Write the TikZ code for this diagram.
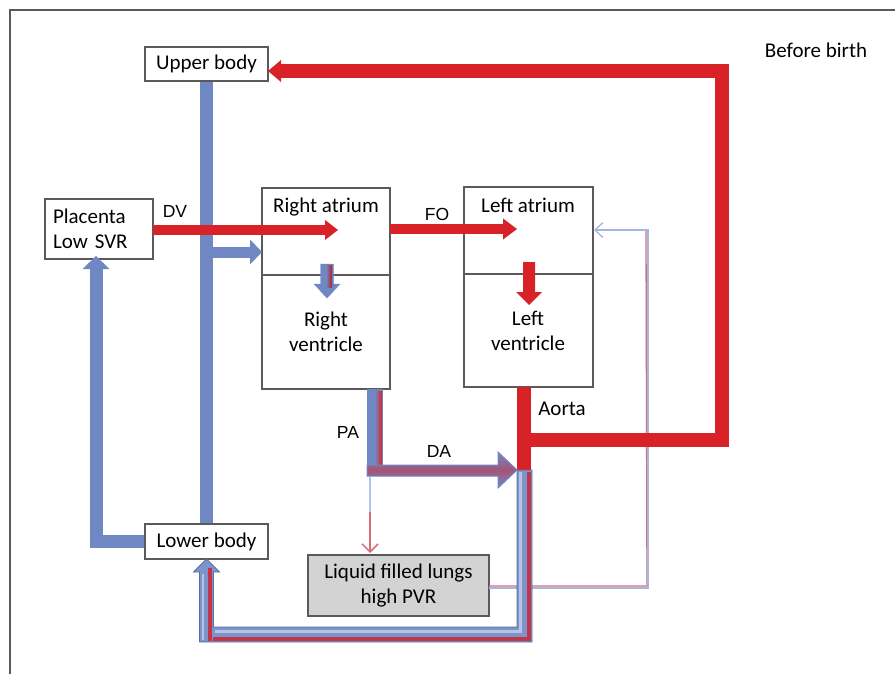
\documentclass[tikz,border=0pt]{standalone}
\usepackage{fontspec}
\setmainfont{Carlito}
\newfontfamily\arialfont{Liberation Sans}
\usetikzlibrary{arrows.meta}
\definecolor{fred}{RGB}{217,33,40}
\definecolor{fblue}{RGB}{111,136,196}
\definecolor{flight}{RGB}{180,195,230}
\definecolor{fpink}{RGB}{212,108,122}
\definecolor{fgray}{RGB}{211,211,211}
\definecolor{fedge}{RGB}{90,90,90}
\tikzset{
  box/.style={draw=fedge, line width=1.2pt, fill=white, inner sep=0pt},
  lbl/.style={font=\fontsize{21}{25.5}\selectfont, inner sep=0pt, align=center},
  albl/.style={font=\arialfont\fontsize{17.5}{20}\selectfont, inner sep=0pt},
  vein/.style={fblue, line width=13pt, line join=miter},
  artery/.style={fred, line width=14pt, line join=miter},
  thinb/.style={flight!80!fblue, line width=1.3pt},
  thinr/.style={fpink, line width=1.3pt},
}
\begin{document}
\begin{tikzpicture}[x=1pt,y=-1pt]
\useasboundingbox (0,0) rectangle (895,674);
\draw[fedge, line width=1.2pt] (10,674) -- (10,10) -- (895,10);

% boxes
\node[box, lbl, minimum width=123pt, minimum height=34pt] (upper) at (206.5,64) {Upper body};
\node[box, lbl, minimum width=108pt, minimum height=60pt, text width=92pt, align=left] (placenta) at (99,229) {Placenta\\Low SVR};
\node[box, minimum width=128pt, minimum height=87pt] (ra) at (326,231.5) {};
\node[box, minimum width=128pt, minimum height=114pt] (rv) at (326,332) {};
\node[box, minimum width=129pt, minimum height=87pt] (la) at (528.5,230.5) {};
\node[box, minimum width=129pt, minimum height=113pt] (lv) at (528.5,330.5) {};
\node[box, lbl, minimum width=123pt, minimum height=35pt] (lower) at (206.5,541.5) {Lower body};
\node[box, lbl, fill=fgray, minimum width=181pt, minimum height=61pt] (lungs) at (398.5,585.5) {Liquid filled lungs\\high PVR};

% coordinates
\coordinate (br1) at (206.5,252);
\coordinate (brt) at (262,252);
\coordinate (dv1) at (153,230);
\coordinate (dvt) at (338,230);
\coordinate (fo1) at (390,229);
\coordinate (fot) at (517,229);
\coordinate (ao1) at (524,387);
\coordinate (ao2) at (524,470);
\coordinate (aom) at (524,440);
\coordinate (rc1) at (722,440);
\coordinate (rc2) at (722,71);
\coordinate (upt) at (268,71);
\coordinate (pl1) at (370,477);
\coordinate (pl2) at (370,512);
\coordinate (pl3) at (370,553);
\coordinate (lg1) at (489,587);
\coordinate (lgc1) at (647,587);
\coordinate (lgc2) at (647,230);
\coordinate (lat) at (594,230);
\coordinate (lo1) at (96,541.5);
\coordinate (plt) at (96,256);

% thin return from lungs to left atrium
\draw[thinr] ([yshift=1pt]lg1) -- ([yshift=1pt]lgc1) -- ([xshift=-1pt]lgc2);
\draw[thinb, -{Straight Barb[length=8pt,width=15pt]}] ([yshift=-1pt]lg1) -- ([xshift=1pt,yshift=-1pt]lgc1) -- ([xshift=1pt]lgc2) -- (lat);

% blue trunk and branches
\draw[vein] (upper.south) -- (lower.north);
\draw[fblue, line width=11pt] (br1) -- ([xshift=-12pt]brt);
\fill[fblue] (brt) -- ++(-12,-12.5) -- ++(0,25) -- cycle;
\draw[vein] (lower.west) -- (lo1) -- ([yshift=-13pt]plt);
\fill[fblue] (plt) -- ++(-13.5,13) -- ++(27,0) -- cycle;

% red DV and FO
\draw[fred, line width=9pt] (dv1) -- ([xshift=-13pt]dvt);
\fill[fred] (dvt) -- ++(-13,-10) -- ++(0,20) -- cycle;
\draw[fred, line width=10pt] (fo1) -- ([xshift=-14pt]fot);
\fill[fred] (fot) -- ++(-14,-10.5) -- ++(0,21) -- cycle;

% inner heart arrows
\filldraw[fblue, draw=fblue] (320.5,264) -- (333.5,264) -- (333.5,284) -- (340,284) -- (327,298) -- (314,284) -- (320.5,284) -- cycle;
\shade[left color=fblue, right color=fred!85!black] (326,265) rectangle (332,287);
\fill[fred] (523,262) -- (535,262) -- (535,292) -- (542,292) -- (529,305) -- (516,292) -- (523,292) -- cycle;

% aorta and systemic
\draw[artery] (ao1) -- (ao2);
\draw[artery] (aom) -- (rc1) -- (rc2) -- ([xshift=13pt]upt);
\fill[fred] (upt) -- ++(13,-11) -- ++(0,22) -- cycle;

% PA and DA
\fill[fblue] (367,389) rectangle (383,476);
\shade[left color=fblue, right color=fred] (375,391) rectangle (382,464);
\shadedraw[draw=fblue, line width=1pt, top color=fblue, bottom color=fblue, middle color=fred!50!fblue]
  (367,465) -- (498,465) -- (498,452) -- (517,470) -- (498,488) -- (498,476) -- (367,476) -- cycle;

% PA to lungs
\draw[flight, line width=1.5pt] (pl1) -- (pl2);
\draw[fpink, line width=1.5pt, -{Straight Barb[length=8pt,width=16pt]}] (pl2) -- (pl3);

% descending stream to lower body
\filldraw[fill=fblue!90!white, draw=fblue!80!black, line width=0.8pt]
  (517,470) -- (532,470) -- (532,642) -- (199.5,642) -- (199.5,572) -- (193.5,572) -- (206.5,559)
  -- (219.5,572) -- (213.5,572) -- (213.5,627) -- (517,627) -- cycle;
\fill[flight] (519,472) rectangle (522,632);
\fill[flight] (214.5,629.5) rectangle (522,633);
\fill[flight] (201.5,574) rectangle (204,640);
\fill[fred!80!fblue] (527,472) rectangle (530.5,640.5);
\fill[fred!80!fblue] (212.5,637) rectangle (530.5,640.5);
\fill[fred!80!fblue] (208,568) rectangle (211.5,640.5);

% labels
\node[lbl] (ratxt) at (326,207) {Right atrium};
\node[lbl] (rvtxt) at (326,332) {Right\\ventricle};
\node[lbl] (latxt) at (528,205) {Left atrium};
\node[lbl] (lvtxt) at (528,331) {Left\\ventricle};
\node[lbl] (before) at (816,50) {Before birth};
\node[lbl] (aorta) at (562,409) {Aorta};
\node[albl] (dv) at (175,211) {DV};
\node[albl] (fo) at (437,214) {FO};
\node[albl] (pa) at (348,432) {PA};
\node[albl] (da) at (439,451) {DA};
\end{tikzpicture}
\end{document}
